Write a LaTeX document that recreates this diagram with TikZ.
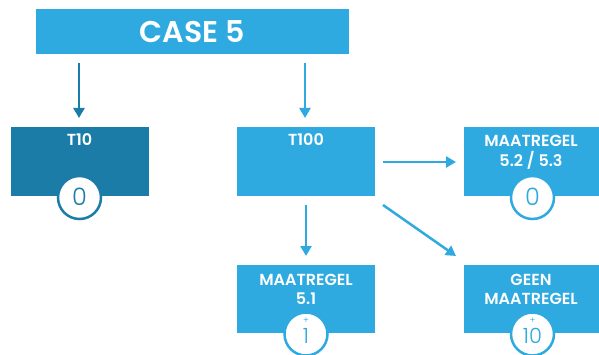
\documentclass[tikz,border=0pt]{standalone}
\usepackage{fontspec}
\setmainfont{Poppins}[BoldFont=* SemiBold]
\newfontfamily\lightfont{Poppins}[UprightFont=* Light]
\usetikzlibrary{arrows.meta}
\definecolor{lb}{RGB}{46,170,224}
\definecolor{db}{RGB}{27,124,168}
\tikzset{
  boxlight/.style={fill=lb,draw=none,minimum width=138pt,minimum height=69pt,inner sep=0pt},
  boxdark/.style={boxlight,fill=db},
  boxtext/.style={text=white,font=\fontsize{16}{19.5}\selectfont\bfseries,align=center,inner sep=0pt,anchor=base},
  circl/.style={circle,fill=white,draw=lb,line width=2.5pt,minimum size=43pt,inner sep=0pt},
  circd/.style={circl,draw=db},
  num/.style={font=\fontsize{24}{24}\selectfont\lightfont,inner sep=0pt,anchor=base},
  nums/.style={font=\fontsize{21}{21}\selectfont\lightfont,inner sep=0pt,anchor=base,text=lb},
  plus/.style={font=\fontsize{9}{9}\selectfont\lightfont,inner sep=0pt,text=lb},
  arl/.style={draw=lb,line width=2.5pt,-{Triangle[length=10pt,width=11pt]}},
  ard/.style={arl,draw=db,fill=db},
}
\begin{document}
\begin{tikzpicture}[x=1pt,y=-1pt]
\useasboundingbox (0,0) rectangle (599,355);
\clip (0,0) rectangle (599,355);
% title
\node[fill=lb,minimum width=313pt,minimum height=45pt,inner sep=0pt] (title) at (192.5,31.5) {};
\node[text=white,font=\fontsize{30}{30}\selectfont\bfseries,inner sep=0pt,anchor=base] (titlet) at (192.5,43) {CASE 5};
% boxes
\node[boxdark] (t10) at (79.5,161.5) {};
\node[boxlight] (t100) at (306,161.5) {};
\node[boxlight] (m52) at (532.5,161.5) {};
\node[boxlight,minimum height=68pt] (m51) at (306,299) {};
\node[boxlight,minimum height=68pt] (geen) at (532.5,299) {};
% texts
\node[boxtext] (t10t) at (79.5,146) {T10};
\node[boxtext] (t100t) at (306,146) {T100};
\node[boxtext] (m52t) at (531,166.5) {MAATREGEL\\5.2 / 5.3};
\node[boxtext] (m51t) at (306,304.5) {MAATREGEL\\5.1};
\node[boxtext] (geent) at (531,304.5) {GEEN\\MAATREGEL};
% circles
\node[circd] (c10) at (79.5,197.5) {};
\node[num,text=db] (n10) at (79.5,205.5) {0};
\node[circl] (c52) at (532.5,197.5) {};
\node[num,text=lb] (n52) at (532.5,205.5) {0};
\node[circl] (c51) at (306,334) {};
\node[nums] (n51) at (306,343) {1};
\node[plus] (p51) at (306,321) {+};
\node[circl] (cg) at (532.5,334) {};
\node[nums] (ng) at (532.5,343) {10};
\node[plus] (pg) at (532.5,321) {+};
% arrows
\coordinate (a1s) at (79,63);
\coordinate (a1e) at (79,118);
\coordinate (a2s) at (305,63);
\coordinate (a2e) at (305,118);
\draw[ard] (a1s) -- (a1e);
\draw[arl] (a2s) -- (a2e);
\coordinate (h1) at (383,162);
\coordinate (h2) at (456,162);
\draw[arl] (h1) -- (h2);
\coordinate (v1) at (306,205);
\coordinate (v2) at (306,256);
\draw[arl] (v1) -- (v2);
\coordinate (d1) at (383,205);
\coordinate (d2) at (456,256);
\draw[arl] (d1) -- (d2);
\end{tikzpicture}
\end{document}
